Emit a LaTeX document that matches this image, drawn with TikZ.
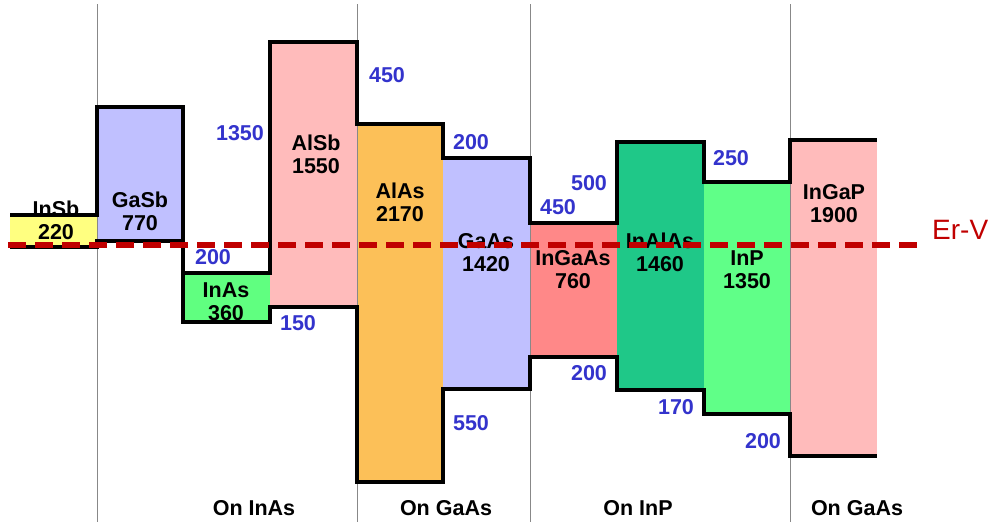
\documentclass[tikz,border=0pt]{standalone}
\usepackage{fontspec}
\setmainfont{Liberation Sans}
\definecolor{cInSb}{HTML}{FFFF80}
\definecolor{cGaSb}{HTML}{C0C0FF}
\definecolor{cInAs}{HTML}{60FF80}
\definecolor{cAlSb}{HTML}{FFBBBB}
\definecolor{cAlAs}{HTML}{FCC058}
\definecolor{cGaAs}{HTML}{C0C0FF}
\definecolor{cInGaAs}{HTML}{FF8888}
\definecolor{cInAlAs}{HTML}{1FC888}
\definecolor{cInP}{HTML}{60FF88}
\definecolor{cInGaP}{HTML}{FFBBBB}
\definecolor{numblue}{HTML}{3333CC}
\definecolor{erred}{HTML}{C00000}
\definecolor{sepgray}{HTML}{888888}
\tikzset{
  band/.style={line width=4pt, black, line join=miter},
  sep/.style={line width=1pt, sepgray},
  matlabel/.style={font=\bfseries\fontsize{21.5}{23}\selectfont, align=center, inner sep=0pt},
  offset/.style={font=\bfseries\fontsize{21.5}{23}\selectfont, text=numblue, inner sep=0pt},
  sublabel/.style={font=\bfseries\fontsize{21.5}{23}\selectfont, inner sep=0pt},
  erline/.style={line width=6pt, erred, dash pattern=on 18pt off 9pt},
}
\begin{document}
\begin{tikzpicture}[x=1pt,y=-1pt]
\useasboundingbox (0,0) rectangle (990,525);
% fills
\fill[cInSb]   (10,215)  rectangle (97,247);
\fill[cGaSb]   (97,107)  rectangle (183,241);
\fill[cInAs]   (183,273) rectangle (270,322);
\fill[cAlSb]   (270,42)  rectangle (357,307);
\fill[cAlAs]   (357,124) rectangle (443,482);
\fill[cGaAs]   (443,158) rectangle (530,389);
\fill[cInGaAs] (530,223) rectangle (617,357);
\fill[cInAlAs] (617,142) rectangle (704,390);
\fill[cInP]    (704,182) rectangle (790,414);
\fill[cInGaP]  (790,140) rectangle (877,456);
% separators
\draw[sep] (97,4) -- (97,522);
\draw[sep] (357,4) -- (357,522);
\draw[sep] (530,4) -- (530,522);
\draw[sep] (790,4) -- (790,522);
% band edges
\draw[band] (10,215) -- (97,215) -- (97,107) -- (183,107) -- (183,322) -- (270,322) -- (270,307) -- (357,307) -- (357,482) -- (443,482) -- (443,389) -- (530,389) -- (530,357) -- (617,357) -- (617,390) -- (704,390) -- (704,414) -- (790,414) -- (790,456) -- (877,456);
\draw[band] (183,273) -- (270,273) -- (270,42) -- (357,42) -- (357,124) -- (443,124) -- (443,158) -- (530,158) -- (530,223) -- (617,223) -- (617,142) -- (704,142) -- (704,182) -- (790,182) -- (790,140) -- (877,140);
\draw[band] (10,247) -- (97,247) -- (97,241) -- (183,241);
% material labels
\node[matlabel] (lInSb)   at (56,220)    {InSb\\220};
\node[matlabel] (lGaSb)   at (140,211.5) {GaSb\\770};
\node[matlabel] (lInAs)   at (226,302)   {InAs\\360};
\node[matlabel] (lAlSb)   at (316,154)   {AlSb\\1550};
\node[matlabel] (lAlAs)   at (400,202.5) {AlAs\\2170};
\node[matlabel] (lGaAs)   at (486,252.5) {GaAs\\1420};
\node[matlabel] (lInGaAs) at (573,270)   {InGaAs\\760};
\node[matlabel] (lInAlAs) at (660,252)   {InAlAs\\1460};
\node[matlabel] (lInP)    at (747,270)   {InP\\1350};
\node[matlabel] (lInGaP)  at (834,203.5) {InGaP\\1900};
% offsets
\node[offset] (o1)  at (240,133) {1350};
\node[offset] (o2)  at (213,257) {200};
\node[offset] (o3)  at (387,75)  {450};
\node[offset] (o4)  at (471,142) {200};
\node[offset] (o5)  at (298,323) {150};
\node[offset] (o6)  at (471,423) {550};
\node[offset] (o7)  at (589,183) {500};
\node[offset] (o8)  at (558,207) {450};
\node[offset] (o9)  at (731,158) {250};
\node[offset] (o10) at (589,373) {200};
\node[offset] (o11) at (676,407) {170};
\node[offset] (o12) at (763,441) {200};
% substrate labels
\node[sublabel] (sInAs)  at (254,508) {On InAs};
\node[sublabel] (sGaAs1) at (446,508) {On GaAs};
\node[sublabel] (sInP)   at (638,508) {On InP};
\node[sublabel] (sGaAs2) at (857,508) {On GaAs};
% Er-V level
\coordinate (erA) at (8,245);
\coordinate (erB) at (922,245);
\draw[erline] (erA) -- (erB);
\node[font=\fontsize{28}{30}\selectfont, text=erred, anchor=west, inner sep=0pt] (erv) at (932,230) {Er-V};
\end{tikzpicture}
\end{document}
